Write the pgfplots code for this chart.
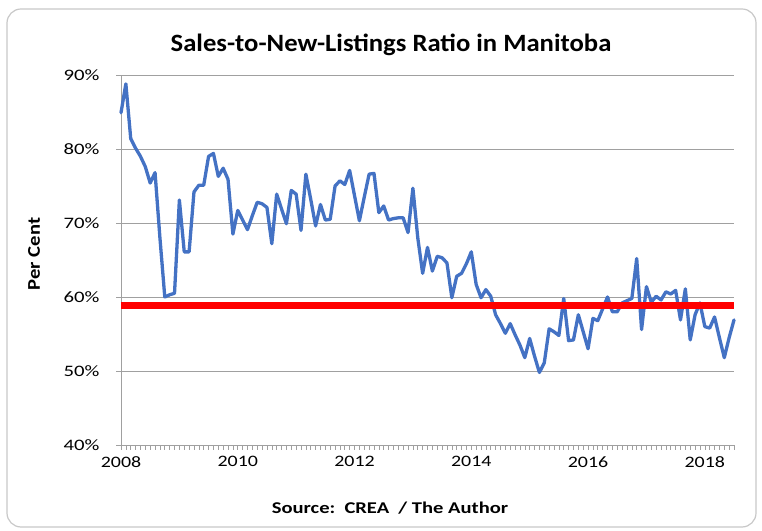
\documentclass[border=0pt]{standalone}
\usepackage{fontspec}
\setmainfont{Carlito}
\usepackage{graphicx}
\usepackage{pgfplots}
\pgfplotsset{compat=1.18}
\definecolor{exblue}{RGB}{68,114,196}
\definecolor{gridgray}{RGB}{160,160,160}
\definecolor{bordergray}{RGB}{200,200,200}
\pgfplotstableread{
i v
0 84.9
1 88.8
2 81.4
3 80.1
4 79.0
5 77.6
6 75.4
7 76.8
8 68.0
9 60.0
10 60.3
11 60.5
12 73.1
13 66.1
14 66.1
15 74.2
16 75.1
17 75.1
18 79.0
19 79.4
20 76.3
21 77.4
22 75.9
23 68.5
24 71.7
25 70.4
26 69.1
27 71.0
28 72.8
29 72.6
30 72.1
31 67.2
32 73.9
33 71.9
34 69.9
35 74.4
36 73.9
37 69.0
38 76.6
39 73.2
40 69.6
41 72.5
42 70.4
43 70.5
44 75.0
45 75.7
46 75.2
47 77.1
48 73.7
49 70.3
50 73.5
51 76.6
52 76.7
53 71.4
54 72.3
55 70.4
56 70.6
57 70.7
58 70.7
59 68.7
60 74.7
61 68.0
62 63.2
63 66.7
64 63.5
65 65.5
66 65.3
67 64.6
68 59.9
69 62.8
70 63.2
71 64.5
72 66.1
73 61.7
74 59.9
75 61.0
76 60.1
77 57.6
78 56.4
79 55.1
80 56.4
81 54.9
82 53.5
83 51.8
84 54.4
85 52.0
86 49.8
87 51.1
88 55.7
89 55.3
90 54.8
91 59.8
92 54.1
93 54.2
94 57.6
95 55.3
96 53.0
97 57.1
98 56.8
99 58.4
100 60.0
101 58.0
102 58.0
103 59.2
104 59.5
105 59.8
106 65.2
107 55.6
108 61.4
109 59.3
110 60.1
111 59.6
112 60.7
113 60.4
114 60.9
115 56.9
116 61.1
117 54.2
118 57.6
119 59.2
120 56.0
121 55.8
122 57.3
123 54.5
124 51.8
125 54.5
126 56.9
}\ratio
\newcommand{\wide}[2]{\scalebox{#1}[1]{#2}}
\begin{document}
\begin{tikzpicture}[x=1bp,y=1bp]
\path[use as bounding box] (-121,-86) rectangle (641,445);
\draw[bordergray, line width=1.2bp, rounded corners=14bp] (-114,-82) rectangle (635,436);
\begin{axis}[
  at={(0,0)}, anchor=south west,
  scale only axis, width=613bp, height=370bp,
  xmin=0, xmax=126, ymin=40, ymax=90,
  axis lines*=left,
  axis line style={gridgray, line width=0.8bp},
  ytick={40,50,...,90},
  yticklabel={\wide{1.3}{\pgfmathprintnumber[assume math mode=true]{\tick}\%}},
  ymajorgrids, grid style={gridgray, line width=0.8bp},
  xtick={0,24,48,72,96,120},
  xticklabels={\wide{1.25}{2008},\wide{1.25}{2010},\wide{1.25}{2012},\wide{1.25}{2014},\wide{1.25}{2016},\wide{1.25}{2018}},
  minor xtick={0,1,...,126},
  tick align=outside,
  major tick length=5bp, minor tick length=5bp,
  tick style={gridgray, line width=0.6bp},
  ticklabel style={font=\fontsize{16}{16}\selectfont, black},
  xticklabel style={yshift=-3bp},
  yticklabel style={xshift=-13bp},
  clip=false,
]
\addplot[exblue, line width=3.3bp, line join=round, line cap=round] table[x=i, y=v] {\ratio};
\addplot[red, line width=7bp] coordinates {(0,58.8) (126,58.8)};
\end{axis}
\node[font=\fontsize{25}{25}\selectfont\bfseries] at (270,400) {\wide{1.07}{Sales-to-New-Listings Ratio in Manitoba}};
\node[font=\fontsize{18}{18}\selectfont\bfseries, rotate=90] at (-87,191) {\wide{1.15}{Per Cent}};
\node[font=\fontsize{16.5}{16.5}\selectfont\bfseries] at (269,-63) {\wide{1.25}{Source:\ \ CREA\ \ / The Author}};
\end{tikzpicture}
\end{document}
